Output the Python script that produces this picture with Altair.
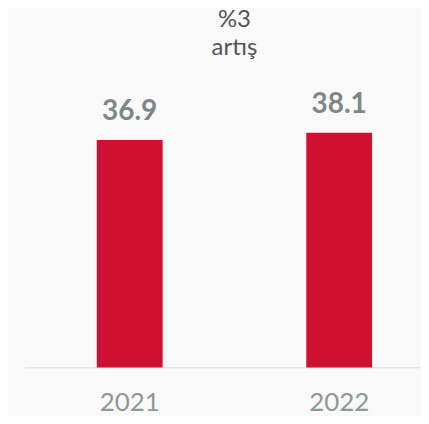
import altair as alt
import pandas as pd

years = ["2021", "2022"]
values = [36.9, 38.1]
labels = ["36.9", "38.1"]
title_text = "%3"
subtitle_text = "artış"

df = pd.DataFrame({"year": years, "value": values, "label": labels})

FONT = "Lato"
PLOT_W = 372
xscale = alt.Scale(domain=years, paddingInner=0.2286, paddingOuter=0)
yscale = alt.Scale(domain=[0, 48.2], nice=False, zero=True)
yaxis = alt.Axis(title=None, labels=False, ticks=False, domain=False, grid=False, minExtent=41)
xaxis = alt.Axis(title=None, labelAngle=0, domain=False, ticks=False,
                 labelFontSize=26, labelColor="#8d9997", labelFont=FONT,
                 labelPadding=22, grid=False)

base = alt.Chart(df)

bars = base.mark_bar(size=66, color="#d01030").encode(
    x=alt.X("year:N", scale=xscale, axis=xaxis),
    y=alt.Y("value:Q", scale=yscale, axis=yaxis),
)

text = base.mark_text(fontSize=28, fontWeight="bold", color="#7b8886", font=FONT,
                      baseline="alphabetic", dy=-20).encode(
    x=alt.X("year:N", scale=xscale, axis=xaxis),
    y=alt.Y("value:Q", scale=yscale, axis=yaxis),
    text="label:N",
)

rule = base.mark_rule(color="#e1e5e5", strokeWidth=1.5).encode(
    y=alt.Y(datum=0, scale=yscale, axis=yaxis),
    x=alt.value(-24),
    x2=alt.value(PLOT_W),
)

chart = alt.layer(rule, bars, text).properties(
    width=PLOT_W,
    height=298,
    background="#f9f9f9",
    padding=0,
    title=alt.TitleParams(text=title_text, subtitle=subtitle_text,
                          fontSize=24, fontWeight="normal", color="#555555", font=FONT,
                          subtitleFontSize=24, subtitleColor="#555555", subtitleFont=FONT,
                          subtitlePadding=4, anchor="middle", offset=10),
).configure_view(strokeWidth=0)

chart.save("out.html", embed_options={"renderer": "svg", "actions": False})
